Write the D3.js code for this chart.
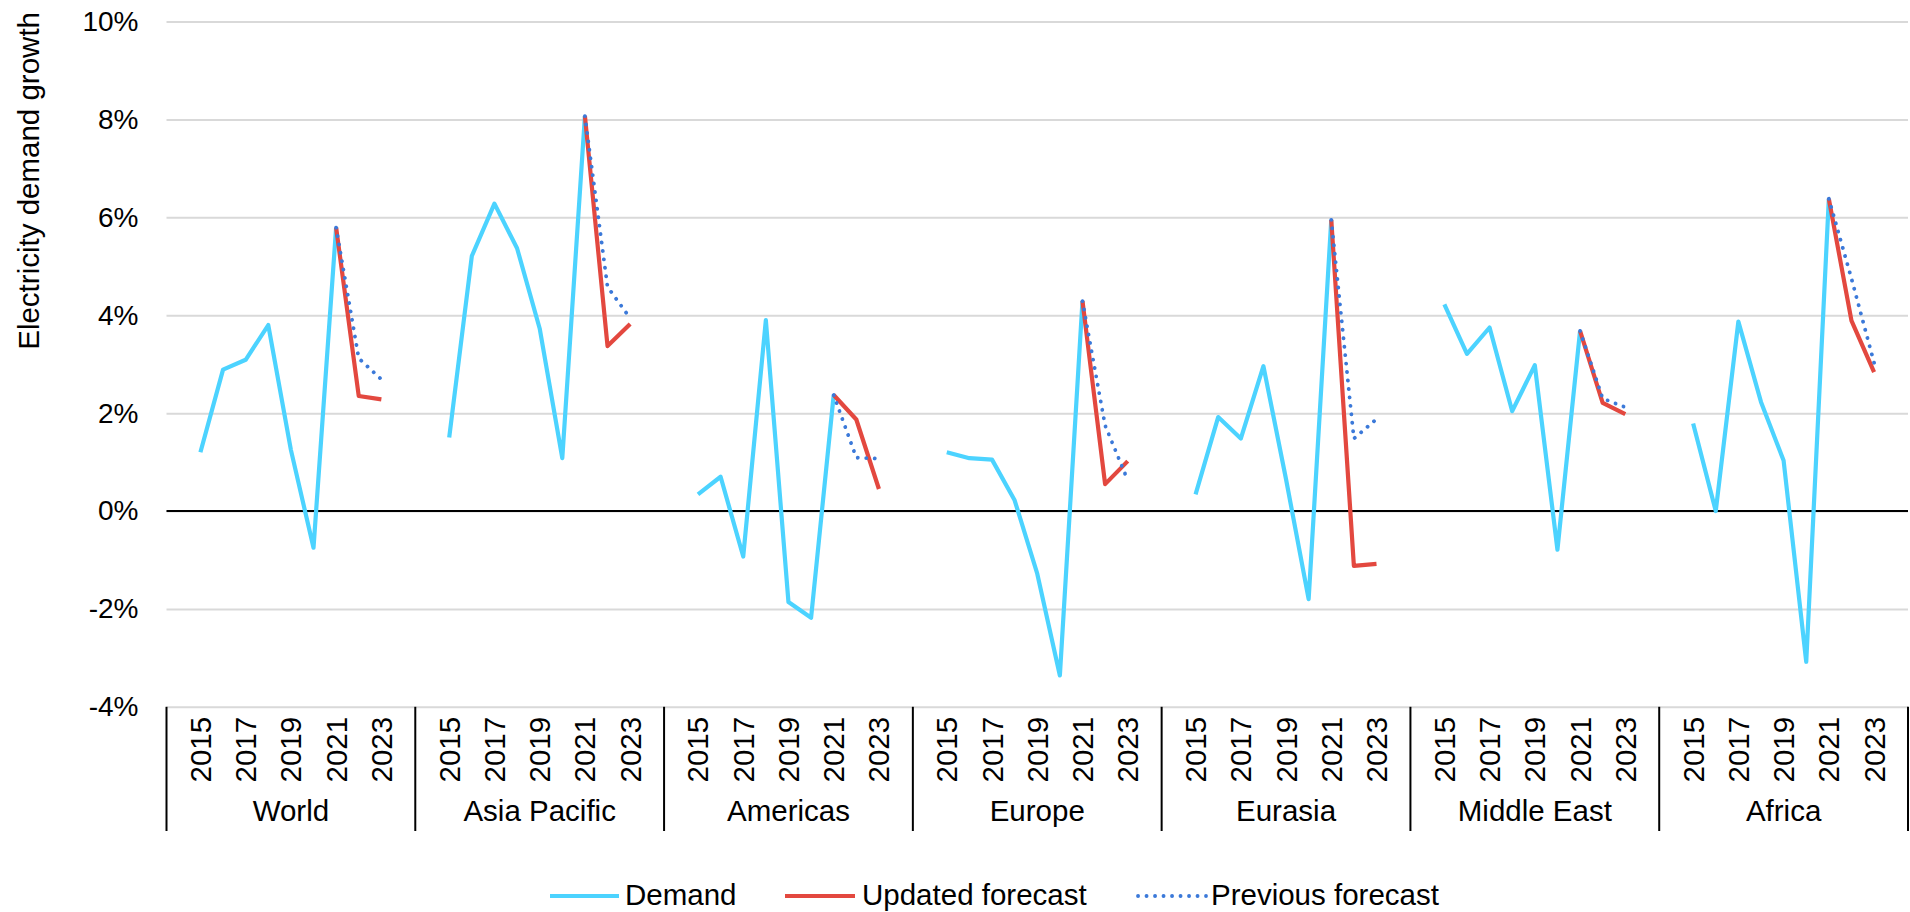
<!DOCTYPE html>
<html>
<head>
<meta charset="utf-8">
<script src="https://cdn.jsdelivr.net/npm/d3@7/dist/d3.min.js"></script>
<style>
  html, body { margin: 0; padding: 0; background: #ffffff; }
  svg { display: block; }
  text { font-family: "Liberation Sans", Arial, sans-serif; fill: #000; }
</style>
</head>
<body>
<svg id="chart" width="1910" height="912"></svg>
<script>
// ---- Data ----
const regions = ["World", "Asia Pacific", "Americas", "Europe", "Eurasia", "Middle East", "Africa"];
const years = [2015, 2016, 2017, 2018, 2019, 2020, 2021, 2022, 2023];
const yearLabels = [2015, 2017, 2019, 2021, 2023];
const yTicks = [-4, -2, 0, 2, 4, 6, 8, 10];

// Demand growth (%), 2015-2021
const demandWorld       = [1.20, 2.89, 3.09, 3.80, 1.25, -0.75, 5.79];
const demandAsiaPacific = [1.50, 5.21, 6.28, 5.37, 3.73, 1.08, 8.07];
const demandAmericas    = [0.34, 0.70, -0.93, 3.90, -1.86, -2.18, 2.37];
const demandEurope      = [1.20, 1.08, 1.05, 0.22, -1.28, -3.36, 4.29];
const demandEurasia     = [0.34, 1.92, 1.48, 2.96, 0.65, -1.80, 5.95];
const demandMiddleEast  = [4.22, 3.21, 3.75, 2.04, 2.98, -0.79, 3.68];
const demandAfrica      = [1.79, 0.00, 3.87, 2.23, 1.03, -3.08, 6.38];

// Updated forecast (%), 2021-2023
const updatedWorld       = [5.79, 2.35, 2.28];
const updatedAsiaPacific = [8.07, 3.37, 3.82];
const updatedAmericas    = [2.37, 1.87, 0.45];
const updatedEurope      = [4.29, 0.55, 1.02];
const updatedEurasia     = [5.95, -1.12, -1.08];
const updatedMiddleEast  = [3.68, 2.21, 1.98];
const updatedAfrica      = [6.38, 3.89, 2.84];

// Previous forecast (%), 2021-2023
const previousWorld       = [5.79, 3.12, 2.69];
const previousAsiaPacific = [8.07, 4.58, 3.94];
const previousAmericas    = [2.37, 1.09, 1.07];
const previousEurope      = [4.29, 1.75, 0.63];
const previousEurasia     = [5.95, 1.48, 1.88];
const previousMiddleEast  = [3.68, 2.30, 2.12];
const previousAfrica      = [6.38, 4.75, 3.03];

const demandSeries   = [demandWorld, demandAsiaPacific, demandAmericas, demandEurope, demandEurasia, demandMiddleEast, demandAfrica];
const updatedSeries  = [updatedWorld, updatedAsiaPacific, updatedAmericas, updatedEurope, updatedEurasia, updatedMiddleEast, updatedAfrica];
const previousSeries = [previousWorld, previousAsiaPacific, previousAmericas, previousEurope, previousEurasia, previousMiddleEast, previousAfrica];

const demandYears = years.slice(0, 7);
const forecastYears = [2021, 2022, 2023];

// ---- Layout ----
const plotLeft = 166.5, plotRight = 1908, plotTop = 21.6, plotBottom = 706.8;
const tickFont = 28;
const fontSize = 29.5;
const colDemand = "#4cd3ff", colUpdated = "#e3483f", colPrevious = "#3b79d9";

const svg = d3.select("#chart");

// category slots: one blank before and after each region's years
const slots = [];
regions.forEach(r => {
  slots.push(r + "|pre");
  years.forEach(y => slots.push(r + "|" + y));
  slots.push(r + "|post");
});

const x = d3.scaleBand().domain(slots).range([plotLeft, plotRight]).padding(0);
const groupX = d3.scaleBand().domain(regions).range([plotLeft, plotRight]).padding(0);
const y = d3.scaleLinear().domain([-4, 10]).range([plotBottom, plotTop]);
const cx = (r, yr) => x(r + "|" + yr) + x.bandwidth() / 2;

// gridlines + tick labels
const yAxis = d3.axisLeft(y).tickValues(yTicks).tickSize(-(plotRight - plotLeft)).tickFormat(d => d + "%").tickPadding(28);
const gy = svg.append("g").attr("transform", `translate(${plotLeft},0)`).call(yAxis);
gy.select(".domain").remove();
gy.selectAll(".tick line").attr("stroke", "#d9d9d9").attr("stroke-width", 2);
gy.selectAll(".tick text").attr("font-size", tickFont).attr("font-family", '"Liberation Sans", Arial, sans-serif').attr("fill", "#000");

// zero line
svg.append("line")
  .attr("x1", plotLeft).attr("x2", plotRight)
  .attr("y1", y(0)).attr("y2", y(0))
  .attr("stroke", "#000").attr("stroke-width", 2);

// category axis: separators
const sepBottom = 831;
svg.append("g").selectAll("line")
  .data(regions.concat(["__end"]))
  .join("line")
  .attr("x1", (d, i) => i < regions.length ? groupX(d) : plotRight)
  .attr("x2", (d, i) => i < regions.length ? groupX(d) : plotRight)
  .attr("y1", plotBottom).attr("y2", sepBottom)
  .attr("stroke", "#000").attr("stroke-width", 2);

// year labels
regions.forEach(r => {
  svg.append("g").selectAll("text")
    .data(yearLabels)
    .join("text")
    .attr("transform", d => `translate(${cx(r, d)},${plotBottom + 10}) rotate(-90)`)
    .attr("text-anchor", "end")
    .attr("dominant-baseline", "central")
    .attr("font-size", fontSize)
    .text(d => d);
});

// region labels
svg.append("g").selectAll("text")
  .data(regions)
  .join("text")
  .attr("x", d => groupX(d) + groupX.bandwidth() / 2)
  .attr("y", 821)
  .attr("text-anchor", "middle")
  .attr("font-size", fontSize)
  .text(d => d);

// y axis title
svg.append("text")
  .attr("transform", `translate(28,12) rotate(-90)`)
  .attr("text-anchor", "end")
  .attr("dominant-baseline", "central")
  .attr("font-size", fontSize)
  .text("Electricity demand growth");

// lines
const lineGen = d3.line().x(d => d[0]).y(d => y(d[1]));

regions.forEach((r, i) => {
  const pts = demandYears.map((yr, j) => [cx(r, yr), demandSeries[i][j]]);
  svg.append("path").datum(pts)
    .attr("d", lineGen).attr("fill", "none")
    .attr("stroke", colDemand).attr("stroke-width", 4.2)
    .attr("stroke-linejoin", "round");
});
regions.forEach((r, i) => {
  const pts = forecastYears.map((yr, j) => [cx(r, yr), updatedSeries[i][j]]);
  svg.append("path").datum(pts)
    .attr("d", lineGen).attr("fill", "none")
    .attr("stroke", colUpdated).attr("stroke-width", 4.2)
    .attr("stroke-linejoin", "round");
});
regions.forEach((r, i) => {
  const pts = forecastYears.map((yr, j) => [cx(r, yr), previousSeries[i][j]]);
  svg.append("path").datum(pts)
    .attr("d", lineGen).attr("fill", "none")
    .attr("stroke", colPrevious).attr("stroke-width", 3.8)
    .attr("stroke-linecap", "round")
    .attr("stroke-dasharray", "0.1 8.4");
});

// legend
const legendY = 894;
const legendItems = [
  { label: "Demand", color: colDemand, dash: null, x0: 550, x1: 619, tx: 625 },
  { label: "Updated forecast", color: colUpdated, dash: null, x0: 785, x1: 855, tx: 862 },
  { label: "Previous forecast", color: colPrevious, dash: "0.1 8.4", x0: 1138, x1: 1206, tx: 1211 }
];
const lg = svg.append("g");
legendItems.forEach(it => {
  const l = lg.append("line")
    .attr("x1", it.x0).attr("x2", it.x1)
    .attr("y1", legendY + 2).attr("y2", legendY + 2)
    .attr("stroke", it.color)
    .attr("stroke-width", it.dash ? 3.8 : 4.2);
  if (it.dash) l.attr("stroke-dasharray", it.dash).attr("stroke-linecap", "round");
  lg.append("text")
    .attr("x", it.tx).attr("y", legendY)
    .attr("dominant-baseline", "central")
    .attr("font-size", fontSize)
    .text(it.label);
});
</script>
</body>
</html>
